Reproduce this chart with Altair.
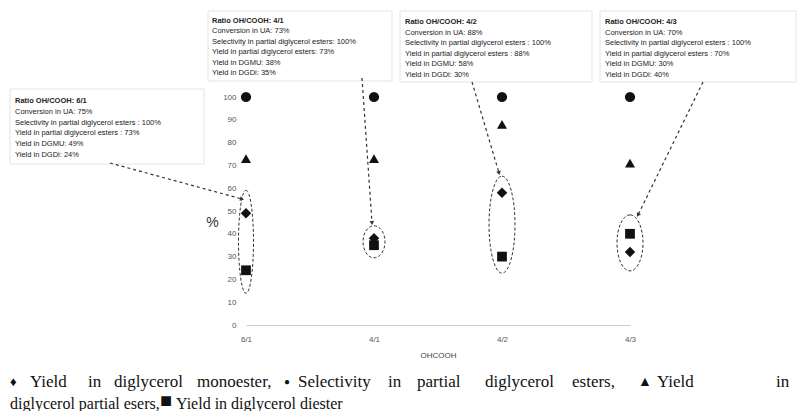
import math
import altair as alt
import pandas as pd

# ---------------- data ----------------
ratios = ["6/1", "4/1", "4/2", "4/3"]
selectivity = [100, 100, 100, 100]          # circle
yield_partial = [73, 73, 88, 71]            # triangle
yield_dgmu = [49, 38, 58, 32]               # diamond
yield_dgdi = [24, 35, 30, 40]               # square
y_ticks = [0, 10, 20, 30, 40, 50, 60, 70, 80, 90, 100]

series_names = [
    "Yield in diglycerol monoester",
    "Selectivity in partial diglycerol esters",
    "Yield in diglycerol partial esters",
    "Yield in diglycerol diester",
]
series_shapes = ["diamond", "circle", "triangle-up", "square"]

box_texts = [
    ["Ratio OH/COOH: 6/1", "Conversion in UA: 75%",
     "Selectivity in partial diglycerol esters : 100%",
     "Yield in partial diglycerol esters : 73%",
     "Yield in DGMU: 49%", "Yield in DGDi: 24%"],
    ["Ratio OH/COOH: 4/1", "Conversion in UA: 73%",
     "Selectivity in partial diglycerol esters: 100%",
     "Yield in partial diglycerol esters: 73%",
     "Yield in DGMU: 38%", "Yield in DGDi: 35%"],
    ["Ratio OH/COOH: 4/2", "Conversion in UA: 88%",
     "Selectivity in partial diglycerol esters : 100%",
     "Yield in partial diglycerol esters : 88%",
     "Yield in DGMU: 58%", "Yield in DGDi: 30%"],
    ["Ratio OH/COOH: 4/3", "Conversion in UA: 70%",
     "Selectivity in partial diglycerol esters : 100%",
     "Yield in partial diglycerol esters : 70%",
     "Yield in DGMU: 30%", "Yield in DGDi: 40%"],
]

caption_line1 = ["\u2666", "Yield", "in", "diglycerol", "monoester,", "\u25CF",
                 "Selectivity", "in", "partial", "diglycerol", "esters,",
                 "\u25B2", "Yield", "in"]
caption_line2 = ["diglycerol partial esers,", "\u25A0", "Yield in diglycerol diester"]

# ---------------- layout (pixels, relative to plot origin) ----------------
W, H = 384, 228
OX = 246
box_rects = [(-236, -8, -42, 67), (-38, -86, 146, -16), (154, -86, 346, -15), (354, -86, 550, -15)]
box_text_origin = [(-231, 4, 10.8), (-34, -76, 10.4), (159, -75, 10.5), (359, -75, 10.5)]
connectors = [(-136, 66, -4, 102), (116, -19, 126, 126), (226, -15, 253, 76), (457, -15, 392, 118)]
ellipse_w = [15, 22, 26, 26]
ellipse_h = [103, 32, 97, 56]
caption_x1 = [10, 30, 88, 114, 197, 284, 298, 388, 417, 485, 572, 638, 657, 776]
caption_size1 = [13, 17, 17, 17, 17, 10, 17, 17, 17, 17, 17, 14, 17, 17]
caption_x2 = [10, 160, 176]
caption_size2 = [16, 20, 16]
caption_dy2 = [0, -3, 0]

# ---------------- frames ----------------
pts = pd.DataFrame({
    "ratio": ratios * 4,
    "series": sum([[s] * 4 for s in series_names], []),
    "value": yield_dgmu + selectivity + yield_partial + yield_dgdi,
})

K = 0.5523
def ellipse_path(a):
    return (f"M0,-1 C{K*a:.4f},-1 {a:.4f},{-K:.4f} {a:.4f},0 "
            f"C{a:.4f},{K:.4f} {K*a:.4f},1 0,1 "
            f"C{-K*a:.4f},1 {-a:.4f},{K:.4f} {-a:.4f},0 "
            f"C{-a:.4f},{-K:.4f} {-K*a:.4f},-1 0,-1 Z")

ell = pd.DataFrame({
    "ratio": ratios,
    "value": [(a + b) / 2 for a, b in zip(yield_dgmu, yield_dgdi)],
    "sz": [h * h for h in ellipse_h],
})
ell_paths = [ellipse_path(w / h) for w, h in zip(ellipse_w, ellipse_h)]

rects = pd.DataFrame(box_rects, columns=["px", "py", "px2", "py2"])
conn = pd.DataFrame(connectors, columns=["px", "py", "px2", "py2"])
heads = pd.DataFrame({
    "px": [c[2] for c in connectors],
    "py": [c[3] for c in connectors],
    "ang": [math.degrees(math.atan2(c[2] - c[0], -(c[3] - c[1]))) % 360 for c in connectors],
})

rows = []
for b, lines in enumerate(box_texts):
    x0, y0, dy = box_text_origin[b]
    for i, t in enumerate(lines):
        rows.append({"px": x0, "py": y0 + i * dy, "text": t, "bold": i == 0})
btxt = pd.DataFrame(rows)

cap1 = pd.DataFrame({"px": [v - OX for v in caption_x1], "py": 285,
                     "text": caption_line1, "fs": caption_size1})
cap2 = pd.DataFrame({"px": [v - OX for v in caption_x2], "py": [307 + d for d in caption_dy2],
                     "text": caption_line2, "fs": caption_size2})

# ---------------- chart ----------------
x_axis = alt.Axis(title="OHCOOH", labelAngle=0, labelFontSize=8, labelColor="#555",
                  labelFont="Liberation Sans", tickSize=0, labelPadding=10,
                  domainColor="#cccccc", titleFontSize=8, titleFontWeight="normal",
                  titleColor="#444", titleFont="Liberation Sans", titlePadding=8)
y_axis = alt.Axis(values=y_ticks, grid=False, labelFontSize=8, labelColor="#555",
                  labelFont="Liberation Sans", tickSize=0, labelPadding=10,
                  domain=False, title="%", titleAngle=0, titleFontSize=14,
                  titleFontWeight="normal", titleColor="#333",
                  titleFont="Liberation Sans", titleX=-34, titleY=125,
                  titleAlign="center", titleBaseline="middle")
x_scale = alt.Scale(type="point", domain=ratios, padding=0)
y_scale = alt.Scale(domain=[0, 100])

def xenc():
    return alt.X("ratio:N", sort=ratios, scale=x_scale, axis=x_axis)

def yenc():
    return alt.Y("value:Q", scale=y_scale, axis=y_axis)

ellipses = alt.Chart(ell).mark_point(filled=False, opacity=1, stroke="#333",
                                      strokeWidth=1, strokeDash=[3, 2]).encode(
    x=xenc(), y=yenc(),
    shape=alt.Shape("ratio:N", scale=alt.Scale(domain=ratios, range=ell_paths), legend=None),
    size=alt.Size("sz:Q", scale=None, legend=None),
)

points = alt.Chart(pts).mark_point(filled=True, opacity=1, color="#111").encode(
    x=xenc(), y=yenc(),
    shape=alt.Shape("series:N", scale=alt.Scale(domain=series_names, range=series_shapes), legend=None),
    size=alt.Size("series:N", scale=alt.Scale(domain=series_names, range=[110, 95, 85, 75]), legend=None),
)

def pix(chart):
    return chart.encode(x=alt.X("px:Q", scale=None), y=alt.Y("py:Q", scale=None))

boxes = pix(alt.Chart(rects).mark_rect(fill="white", stroke="#e4e4e4", strokeWidth=1)).encode(
    x2="px2:Q", y2="py2:Q")

lines = pix(alt.Chart(conn).mark_rule(stroke="#333", strokeWidth=1.2, strokeDash=[3, 3])).encode(
    x2="px2:Q", y2="py2:Q")

arrow_heads = pix(alt.Chart(heads).mark_point(shape="triangle-up", filled=True, opacity=1,
                                              color="#333", size=22)).encode(
    angle=alt.Angle("ang:Q", scale=None))

bold_txt = pix(alt.Chart(btxt[btxt.bold]).mark_text(align="left", baseline="middle", fontSize=7.5,
                                                     font="Liberation Sans", fontWeight="bold",
                                                     color="#222")).encode(text="text:N")
norm_txt = pix(alt.Chart(btxt[~btxt.bold]).mark_text(align="left", baseline="middle", fontSize=7.5,
                                                      font="Liberation Sans", color="#222")).encode(text="text:N")

c1 = pix(alt.Chart(cap1).mark_text(align="left", baseline="middle",
                                   font="Liberation Serif", color="#111")).encode(
    text="text:N", size=alt.Size("fs:Q", scale=None, legend=None))
c2 = pix(alt.Chart(cap2).mark_text(align="left", baseline="middle",
                                   font="Liberation Serif", color="#111")).encode(
    text="text:N", size=alt.Size("fs:Q", scale=None, legend=None))

chart = alt.layer(boxes, lines, arrow_heads, ellipses, points, bold_txt, norm_txt, c1, c2).resolve_scale(
    shape="independent", size="independent"
).properties(
    width=W, height=H,
    background="white",
    autosize=alt.AutoSizeParams(type="none"),
    padding={"left": 238, "top": 89, "right": 168, "bottom": 86},
).configure_view(stroke=None)

chart.save("out.html", embed_options={"renderer": "svg", "actions": False})
